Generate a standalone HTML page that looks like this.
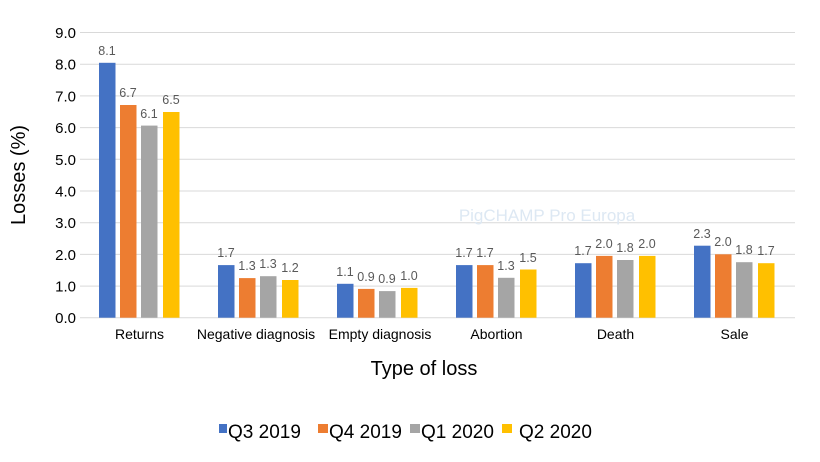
<!DOCTYPE html>
<html><head><meta charset="utf-8"><style>
html,body{margin:0;padding:0;background:#fff}
svg{display:block;font-family:"Liberation Sans",sans-serif}
</style></head><body>
<svg width="820" height="462" viewBox="0 0 820 462" xmlns="http://www.w3.org/2000/svg">
<g stroke="#d9d9d9" stroke-width="1">
<line x1="80" x2="795" y1="32.5" y2="32.5"/><line x1="80" x2="795" y1="64.2" y2="64.2"/>
<line x1="80" x2="795" y1="95.9" y2="95.9"/><line x1="80" x2="795" y1="127.6" y2="127.6"/>
<line x1="80" x2="795" y1="159.3" y2="159.3"/><line x1="80" x2="795" y1="191" y2="191"/>
<line x1="80" x2="795" y1="222.7" y2="222.7"/><line x1="80" x2="795" y1="254.4" y2="254.4"/>
<line x1="80" x2="795" y1="286.1" y2="286.1"/><line x1="80" x2="795" y1="317.7" y2="317.7"/>
</g>
<g font-size="15" fill="#000" text-anchor="end">
<text x="76" y="38">9.0</text><text x="76" y="69.7">8.0</text><text x="76" y="101.4">7.0</text>
<text x="76" y="133.1">6.0</text><text x="76" y="164.8">5.0</text><text x="76" y="196.5">4.0</text>
<text x="76" y="228.2">3.0</text><text x="76" y="259.9">2.0</text><text x="76" y="291.6">1.0</text>
<text x="76" y="323.2">0.0</text>
</g>
<text x="547" y="221" font-size="17" fill="#dde8f3" text-anchor="middle">PigCHAMP Pro Europa</text>
<g>
<rect x="99" y="62.8" width="16.5" height="254.9" fill="#4472c4"/>
<rect x="120" y="105" width="16.5" height="212.7" fill="#ed7d31"/>
<rect x="141" y="125.6" width="16.5" height="192.1" fill="#a5a5a5"/>
<rect x="163" y="112" width="16.5" height="205.7" fill="#ffc000"/>
<rect x="218" y="265.1" width="16.5" height="52.6" fill="#4472c4"/>
<rect x="239" y="278.1" width="16.5" height="39.6" fill="#ed7d31"/>
<rect x="260" y="276.2" width="16.5" height="41.5" fill="#a5a5a5"/>
<rect x="282" y="280" width="16.5" height="37.7" fill="#ffc000"/>
<rect x="337" y="283.8" width="16.5" height="33.9" fill="#4472c4"/>
<rect x="358" y="288.9" width="16.5" height="28.8" fill="#ed7d31"/>
<rect x="379" y="291.1" width="16.5" height="26.6" fill="#a5a5a5"/>
<rect x="401" y="287.9" width="16.5" height="29.8" fill="#ffc000"/>
<rect x="456" y="265.1" width="16.5" height="52.6" fill="#4472c4"/>
<rect x="477" y="265.1" width="16.5" height="52.6" fill="#ed7d31"/>
<rect x="498" y="277.8" width="16.5" height="39.9" fill="#a5a5a5"/>
<rect x="520" y="269.5" width="16.5" height="48.2" fill="#ffc000"/>
<rect x="575" y="263.2" width="16.5" height="54.5" fill="#4472c4"/>
<rect x="596" y="255.9" width="16.5" height="61.8" fill="#ed7d31"/>
<rect x="617" y="260" width="16.5" height="57.7" fill="#a5a5a5"/>
<rect x="639" y="255.9" width="16.5" height="61.8" fill="#ffc000"/>
<rect x="694" y="245.7" width="16.5" height="72" fill="#4472c4"/>
<rect x="715" y="254.3" width="16.5" height="63.4" fill="#ed7d31"/>
<rect x="736" y="262.2" width="16.5" height="55.5" fill="#a5a5a5"/>
<rect x="758" y="263.2" width="16.5" height="54.5" fill="#ffc000"/>
</g>
<g font-size="12.5" fill="#595959" text-anchor="middle">
<text x="107" y="55">8.1</text><text x="128" y="97">6.7</text><text x="149" y="118">6.1</text><text x="171" y="104">6.5</text>
<text x="226" y="257">1.7</text><text x="247" y="270">1.3</text><text x="268" y="268">1.3</text><text x="290" y="272">1.2</text>
<text x="345" y="276">1.1</text><text x="366" y="281">0.9</text><text x="387" y="283">0.9</text><text x="409" y="280">1.0</text>
<text x="464" y="257">1.7</text><text x="485" y="257">1.7</text><text x="506" y="270">1.3</text><text x="528" y="262">1.5</text>
<text x="583" y="255">1.7</text><text x="604" y="248">2.0</text><text x="625" y="252">1.8</text><text x="647" y="248">2.0</text>
<text x="702" y="238">2.3</text><text x="723" y="246">2.0</text><text x="744" y="254">1.8</text><text x="766" y="255">1.7</text>
</g>
<g font-size="14" fill="#000" text-anchor="middle">
<text x="139.5" y="339">Returns</text><text x="256" y="339">Negative diagnosis</text>
<text x="380" y="339">Empty diagnosis</text><text x="496.5" y="339">Abortion</text>
<text x="615.5" y="339">Death</text><text x="734.5" y="339">Sale</text>
</g>
<text x="424" y="375" font-size="20" text-anchor="middle">Type of loss</text>
<text transform="translate(25,175) rotate(-90)" font-size="20" text-anchor="middle">Losses (%)</text>
<g font-size="19">
<rect x="219" y="424" width="8" height="9" fill="#4472c4"/><text x="228" y="438">Q3 2019</text>
<rect x="318" y="424" width="10" height="9" fill="#ed7d31"/><text x="329" y="438">Q4 2019</text>
<rect x="410" y="424" width="10" height="9" fill="#a5a5a5"/><text x="421" y="438">Q1 2020</text>
<rect x="502" y="424" width="10" height="9" fill="#ffc000"/><text x="519" y="438">Q2 2020</text>
</g>
</svg>
</body></html>
